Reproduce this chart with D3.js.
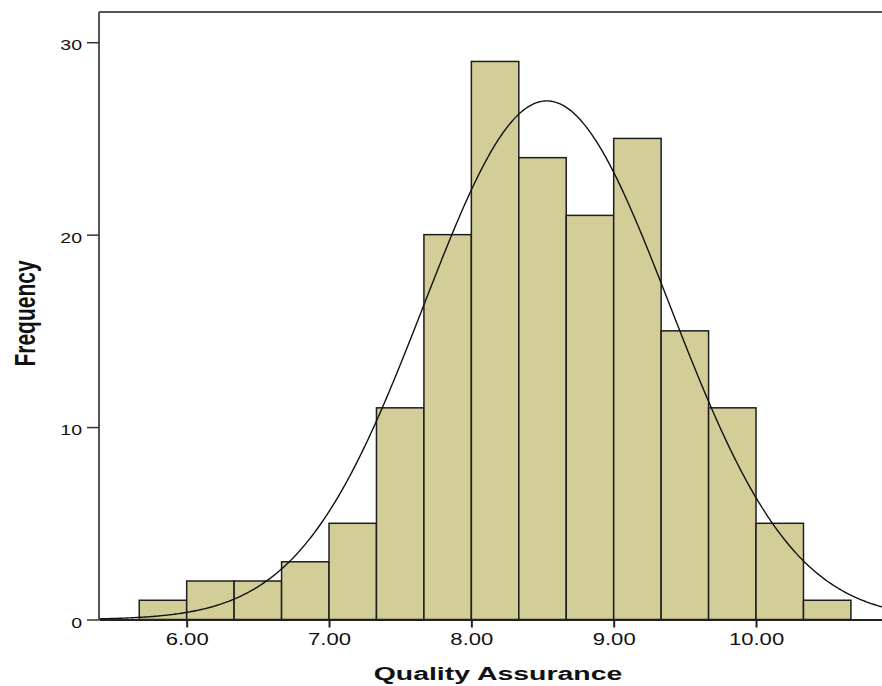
<!DOCTYPE html>
<html>
<head>
<meta charset="utf-8">
<script src="https://cdn.jsdelivr.net/npm/d3@7"></script>
<style>
  html, body { margin: 0; padding: 0; background: #fff; }
  svg { display: block; }
  text { font-family: "Liberation Sans", Arial, sans-serif; fill: #111; }
</style>
</head>
<body>
<svg id="chart" width="882" height="686"></svg>
<script>
// ---- data ----
const binLow  = [17/3, 18/3, 19/3, 20/3, 21/3, 22/3, 23/3, 24/3, 25/3, 26/3, 27/3, 28/3, 29/3, 30/3, 31/3];
const binHigh = [18/3, 19/3, 20/3, 21/3, 22/3, 23/3, 24/3, 25/3, 26/3, 27/3, 28/3, 29/3, 30/3, 31/3, 32/3];
const counts  = [1, 2, 2, 3, 5, 11, 20, 29, 24, 21, 25, 15, 11, 5, 1];
const xTicks  = [6, 7, 8, 9, 10];
const xTickLabels = ["6.00", "7.00", "8.00", "9.00", "10.00"];
const yTicks  = [0, 10, 20, 30];
const curveMean = 8.53;
const curveSD = 0.8635;
const xTitle = "Quality Assurance";
const yTitle = "Frequency";

// ---- layout ----
const mLeft = 99, mRight = 882, mTop = 12, mBottom = 619.5;
const x = d3.scaleLinear().domain([5.384, 10.885]).range([mLeft, mRight]);
const y = d3.scaleLinear().domain([0, 31.57]).range([mBottom, mTop]);

const svg = d3.select("#chart");

// bars
const bins = counts.map((c, i) => ({ lo: binLow[i], hi: binHigh[i], c }));
svg.append("g").selectAll("rect").data(bins).join("rect")
  .attr("x", d => x(d.lo))
  .attr("y", d => y(d.c))
  .attr("width", d => x(d.hi) - x(d.lo))
  .attr("height", d => y(0) - y(d.c))
  .attr("fill", "#d3ce97")
  .attr("stroke", "#1e1e1e")
  .attr("stroke-width", 1.5);

// normal curve
const n = d3.sum(counts);
const bw = binHigh[0] - binLow[0];
const pts = d3.range(x.domain()[0], x.domain()[1] + 0.001, 0.01).map(v => {
  const z = (v - curveMean) / curveSD;
  return [v, n * bw * Math.exp(-0.5 * z * z) / (curveSD * Math.sqrt(2 * Math.PI))];
});
svg.append("path")
  .datum(pts)
  .attr("d", d3.line().x(d => x(d[0])).y(d => y(d[1])))
  .attr("fill", "none")
  .attr("stroke", "#111")
  .attr("stroke-width", 1.4);

// frame (top + left)
svg.append("line").attr("x1", mLeft).attr("x2", mRight).attr("y1", mTop).attr("y2", mTop)
  .attr("stroke", "#555").attr("stroke-width", 2);
svg.append("line").attr("x1", mLeft).attr("x2", mLeft).attr("y1", mTop).attr("y2", mBottom)
  .attr("stroke", "#555").attr("stroke-width", 2);

// x axis
const xAxis = d3.axisBottom(x).tickValues(xTicks)
  .tickFormat((d, i) => xTickLabels[i]).tickSizeInner(8).tickSizeOuter(0).tickPadding(6);
const gx = svg.append("g").attr("transform", `translate(0,${mBottom})`).call(xAxis);
gx.select(".domain").attr("stroke", "#222").attr("stroke-width", 2);
gx.selectAll(".tick line").attr("stroke", "#222").attr("stroke-width", 2);
gx.selectAll(".tick text").attr("font-size", 16).attr("dy", null).attr("y", 25.5)
  .attr("font-family", '"Liberation Sans", Arial, sans-serif').attr("fill", "#222");

// y axis
const yAxis = d3.axisLeft(y).tickValues(yTicks).tickSizeInner(12).tickSizeOuter(0).tickPadding(5);
const gy = svg.append("g").attr("transform", `translate(${mLeft},0)`).call(yAxis);
gy.select(".domain").remove();
gy.selectAll(".tick line").attr("stroke", "#333").attr("stroke-width", 1.5);
gy.selectAll(".tick text").attr("font-size", 15).attr("dy", null).attr("y", 7.5).attr("x", -17)
  .attr("font-family", '"Liberation Sans", Arial, sans-serif').attr("fill", "#222");

// axis titles
svg.append("text").attr("class", "stretch")
  .attr("x", 498).attr("y", 680).attr("text-anchor", "middle")
  .attr("font-size", 18).attr("font-weight", "bold").attr("fill", "#111")
  .text(xTitle);

svg.append("text")
  .attr("transform", "translate(35,313.5) scale(1.4,1) rotate(-90)")
  .attr("text-anchor", "middle")
  .attr("font-size", 21).attr("font-weight", "bold").attr("fill", "#111")
  .text(yTitle);

// horizontal stretch of horizontal texts (reference is widened)
function stretch(sel, k) {
  sel.each(function () {
    const w = this.getComputedTextLength();
    d3.select(this).attr("textLength", w * k).attr("lengthAdjust", "spacingAndGlyphs");
  });
}
stretch(gx.selectAll(".tick text"), 1.38);
stretch(gy.selectAll(".tick text"), 1.3);
stretch(svg.selectAll("text.stretch"), 1.58);
</script>
</body>
</html>
